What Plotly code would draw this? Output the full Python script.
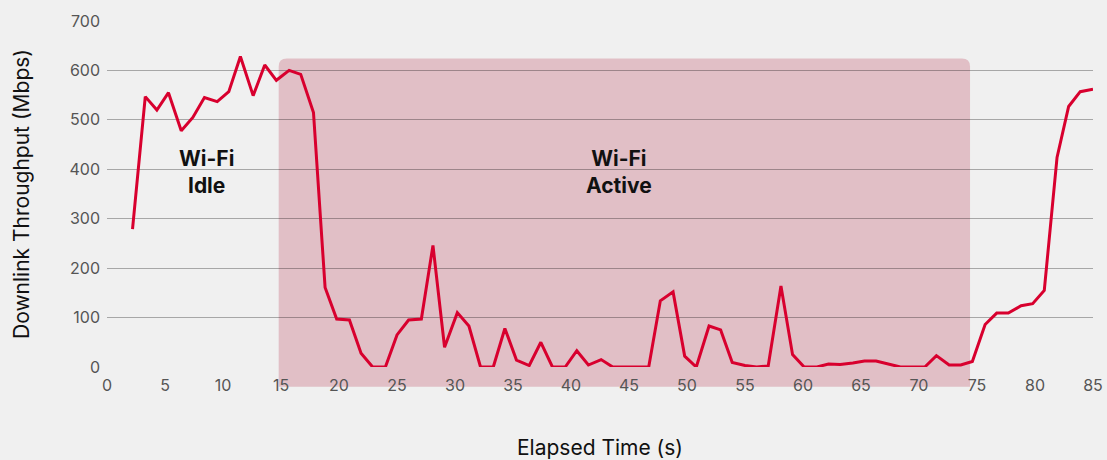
import plotly.graph_objects as go

# Elapsed time (s) of each sample
time_s = [2.2, 3.3, 4.3, 5.3, 6.4, 7.4, 8.4, 9.5, 10.5, 11.5,
          12.6, 13.6, 14.6, 15.7, 16.7, 17.8, 18.8, 19.8, 20.9, 21.9,
          22.9, 24.0, 25.0, 26.0, 27.1, 28.1, 29.1, 30.2, 31.2, 32.2,
          33.3, 34.3, 35.3, 36.4, 37.4, 38.4, 39.5, 40.5, 41.5, 42.6,
          43.6, 44.6, 45.7, 46.7, 47.7, 48.8, 49.8, 50.8, 51.9, 52.9,
          53.9, 55.0, 56.0, 57.0, 58.1, 59.1, 60.1, 61.2, 62.2, 63.2,
          64.3, 65.3, 66.3, 67.4, 68.4, 69.5, 70.5, 71.5, 72.6, 73.6,
          74.6, 75.7, 76.7, 77.7, 78.8, 79.8, 80.8, 81.9, 82.9, 83.9,
          85.0]

# Downlink throughput (Mbps)
throughput = [279, 547, 520, 555, 478, 505, 545, 537, 557, 628,
              549, 611, 580, 600, 592, 515, 161, 97, 95, 28,
              0, 0, 65, 95, 97, 246, 40, 110, 83, 0,
              0, 78, 14, 3, 50, 0, 0, 33, 4, 15,
              0, 0, 0, 0, 134, 152, 22, 0, 83, 75,
              9, 3, 0, 2, 164, 25, 0, 0, 6, 5,
              8, 12, 12, 5, 0, 0, 0, 23, 4, 4,
              11, 86, 109, 109, 124, 128, 155, 424, 527, 557,
              562]

# Shaded "Wi-Fi Active" window
active_window_s = [14.8, 74.4]
active_window_mbps = [-40, 624]

# Region labels
region_labels = ["<b>Wi-Fi<br>Idle</b>", "<b>Wi-Fi<br>Active</b>"]
region_label_x = [8.6, 44.1]
region_label_y = [395, 395]

x_ticks = list(range(0, 90, 5))
y_ticks = list(range(0, 800, 100))
X_RANGE = [0, 85]
Y_RANGE = [0, 700]

BG = "#f0f0f0"
RED = "#d8002e"
FONT = "Inter, Roboto, sans-serif"

fig = go.Figure()

fig.add_trace(go.Scatter(
    x=time_s, y=throughput, mode="lines",
    line=dict(color=RED, width=3),
    hoverinfo="x+y", showlegend=False,
))

# Rounded rectangle for the active window (x in data units, y in paper units)
x0, x1 = active_window_s
y0 = (active_window_mbps[0] - Y_RANGE[0]) / (Y_RANGE[1] - Y_RANGE[0])
y1 = (active_window_mbps[1] - Y_RANGE[0]) / (Y_RANGE[1] - Y_RANGE[0])
rx = 0.7
ry = 0.023
path = (f"M {x0},{y0} L {x0},{y1 - ry} Q {x0},{y1} {x0 + rx},{y1} "
        f"L {x1 - rx},{y1} Q {x1},{y1} {x1},{y1 - ry} L {x1},{y0} Z")
fig.add_shape(type="path", path=path, xref="x", yref="paper",
              fillcolor="#e1bfc6", line=dict(width=0), layer="below")

for txt, lx, ly in zip(region_labels, region_label_x, region_label_y):
    fig.add_annotation(x=lx, y=ly, xref="x", yref="y", text=txt,
                       showarrow=False,
                       font=dict(family=FONT, size=21, color="#111111"))

fig.update_layout(
    width=1107, height=460,
    paper_bgcolor=BG, plot_bgcolor="rgba(0,0,0,0)",
    margin=dict(l=107, r=14, t=21, b=93),
    font=dict(family=FONT, size=16, color="#555555"),
    showlegend=False,
)

fig.update_xaxes(
    range=X_RANGE, tickvals=x_ticks, ticktext=[str(v) for v in x_ticks],
    showgrid=False, zeroline=False, showline=False, ticks="",
    ticklabelstandoff=7,
    tickfont=dict(family=FONT, size=16, color="#555555"),
    title=dict(text="Elapsed Time (s)", standoff=46,
               font=dict(family=FONT, size=21, color="#111111")),
    automargin=False,
)

fig.update_yaxes(
    range=Y_RANGE, tickvals=y_ticks, ticktext=[str(v) for v in y_ticks],
    showgrid=True, gridcolor="rgba(0,0,0,0.3)", gridwidth=1,
    zeroline=False, showline=False, ticks="",
    ticklabelstandoff=6,
    tickfont=dict(family=FONT, size=16, color="#555555"),
    title=dict(text="Downlink Throughput (Mbps)", standoff=34,
               font=dict(family=FONT, size=21, color="#111111")),
    automargin=False,
)

fig.write_html("out.html",
               config={"displayModeBar": False},
               post_script="document.body.style.margin='0';"
                           "document.body.style.background='#f0f0f0';")
